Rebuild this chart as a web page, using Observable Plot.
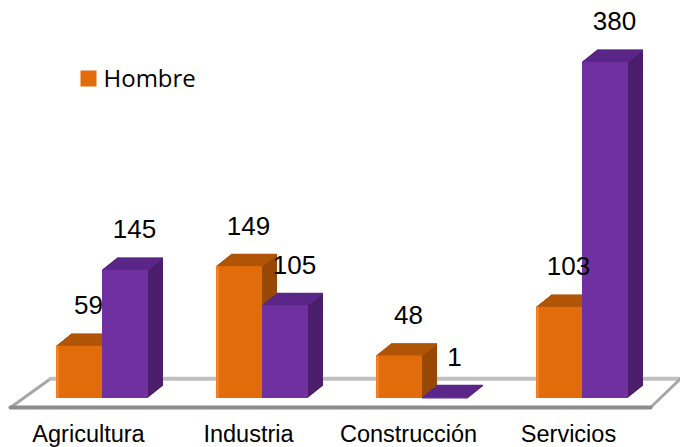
<!DOCTYPE html>
<html>
<head>
<meta charset="utf-8">
<script src="https://cdn.jsdelivr.net/npm/d3@7"></script>
<script src="https://cdn.jsdelivr.net/npm/@observablehq/plot@0.6"></script>
<style>
  html, body { margin: 0; padding: 0; background: #fff; }
  #chart svg { display: block; }
</style>
</head>
<body>
<div id="chart"></div>
<script>
// ---- data ----
const categories = ["Agricultura", "Industria", "Construcción", "Servicios"];
const seriesNames = ["Hombre", "Mujer"];
const hombre = [59, 149, 48, 103];
const mujer = [145, 105, 1, 380];
const legendItems = ["Hombre"];

// ---- styles ----
const front = {Hombre: "#E36C0A", Mujer: "#7030A0"};
const top_ = {Hombre: "#B05407", Mujer: "#5A2688"};
const side = {Hombre: "#984806", Mujer: "#4B1E6B"};
const barW = 0.2875;      // in category units
const depthSteps = 15;    // extrusion steps (1px right, 0.8px up each)

const rows = [];
categories.forEach((c, i) => {
  rows.push({cat: c, i, series: "Hombre", value: hombre[i], x1: i - barW, x2: i});
  rows.push({cat: c, i, series: "Mujer", value: mujer[i], x1: i, x2: i + barW});
});

const catRows = categories.map((c, i) => ({cat: c, i}));

// floor (decoration) in scale units
const floor = [
  {x: -0.575, y: -10.2},
  {x: -0.325, y: 22.3},
  {x: 3.6125, y: 22.3},
  {x: 3.425, y: -10.2}
];

const marks = [];
// floor fill + edges
marks.push(Plot.line(floor, {x: "x", y: "y", fill: "#fff", stroke: "none"}));
marks.push(Plot.line([floor[0], floor[1]], {x: "x", y: "y", stroke: "#A6A6A6", strokeWidth: 3}));
marks.push(Plot.line([floor[1], floor[2]], {x: "x", y: "y", stroke: "#BFBFBF", strokeWidth: 4}));
marks.push(Plot.line([floor[2], floor[3]], {x: "x", y: "y", stroke: "#A6A6A6", strokeWidth: 3}));
marks.push(Plot.line([floor[3], floor[0]], {x: "x", y: "y", stroke: "#8C8C8C", strokeWidth: 4}));

// extrusion (side colour)
for (let k = depthSteps; k >= 1; k--) {
  marks.push(Plot.rect(rows, {
    x1: "x1", x2: "x2", y1: 0, y2: "value",
    fill: d => side[d.series], dx: k, dy: -0.8 * k
  }));
}
// top faces
for (let k = 0; k <= depthSteps; k++) {
  marks.push(Plot.ruleY(rows, {
    x1: "x1", x2: "x2", y: "value",
    stroke: d => top_[d.series], strokeWidth: 1.6, dx: k, dy: -0.8 * k
  }));
}
// front faces
marks.push(Plot.rect(rows, {
  x1: "x1", x2: "x2", y1: 0, y2: "value",
  fill: d => front[d.series]
}));
// subtle light left edge on orange bars
marks.push(Plot.ruleX(rows.filter(d => d.series === "Hombre"), {
  x: "x1", y1: 0, y2: "value", stroke: "#F08A3C", strokeWidth: 2, dx: 1
}));

// value labels
marks.push(Plot.text(rows, {
  x: d => (d.x1 + d.x2) / 2, y: "value", text: d => String(d.value),
  dx: 9, dy: -32, lineAnchor: "bottom", textAnchor: "middle",
  fontSize: 26, fontFamily: "Liberation Sans, Arial, sans-serif", fill: "#000"
}));

// category labels
marks.push(Plot.text(catRows, {
  x: "i", y: 0, text: "cat",
  dx: -14, dy: 43, lineAnchor: "bottom", textAnchor: "middle",
  fontSize: 23.5, fontFamily: "Liberation Sans, Arial, sans-serif", fill: "#000"
}));

// legend (inside the plot area)
marks.push(Plot.dot(legendItems, {
  frameAnchor: "top-left", dx: 66, dy: 34,
  symbol: "square", r: 9.03, fill: front.Hombre, stroke: "none"
}));
marks.push(Plot.text(legendItems, {
  frameAnchor: "top-left", dx: 81, dy: 42, text: d => d,
  textAnchor: "start", lineAnchor: "bottom",
  fontSize: 24, fontFamily: "Open Sans, sans-serif", fill: "#000"
}));

const chart = Plot.plot({
  width: 680,
  height: 447,
  marginLeft: 22,
  marginRight: 18,
  marginTop: 44,
  marginBottom: 49,
  x: {type: "linear", domain: [-0.5, 3.5], axis: null},
  y: {type: "linear", domain: [0, 400], axis: null},
  style: {background: "#fff", overflow: "visible"},
  marks
});
document.getElementById("chart").appendChild(chart);
</script>
</body>
</html>
